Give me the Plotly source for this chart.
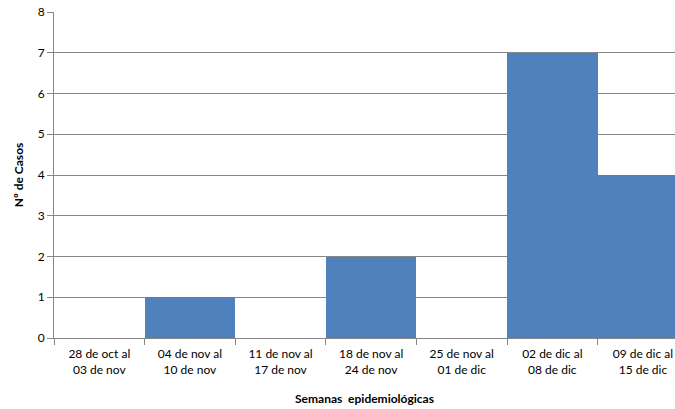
import plotly.graph_objects as go

categories = ["28 de oct al<br>03 de nov", "04 de nov al<br>10 de nov", "11 de nov al<br>17 de nov",
              "18 de nov al<br>24 de nov", "25 de nov al<br>01 de dic", "02 de dic al<br>08 de dic",
              "09 de dic al<br>15 de dic"]
casos = [0, 1, 0, 2, 0, 7, 4]
y_ticks = [0, 1, 2, 3, 4, 5, 6, 7, 8]

W, H = 675, 409
L, T, B = 54, 12, 71
cat_px = 90.6
xmax = -0.5 + (W - L) / cat_px

fig = go.Figure(go.Bar(
    x=categories, y=casos, width=1.0,
    marker=dict(color="#4F81BD", line=dict(color="#4F81BD", width=0)),
))
font_family = "Lato, Open Sans, sans-serif"
fig.update_layout(
    width=W, height=H,
    margin=dict(l=L, r=0, t=T, b=B),
    paper_bgcolor="white", plot_bgcolor="white",
    showlegend=False,
    bargap=0,
    font=dict(family=font_family, size=12, color="#000000"),
)
fig.update_xaxes(
    type="category", range=[-0.5, xmax],
    tickson="boundaries", ticks="outside", ticklen=6, tickcolor="#868686",
    showline=True, linecolor="#868686", linewidth=1,
    showgrid=False,
    tickfont=dict(size=12),
    ticklabelstandoff=5,
    title=dict(text="<b>Semanas  epidemiológicas</b>", font=dict(size=12), standoff=18),
)
fig.update_yaxes(
    range=[0, 8], tickvals=y_ticks,
    ticks="outside", ticklen=6, tickcolor="#868686",
    showline=True, linecolor="#868686", linewidth=1,
    showgrid=True, gridcolor="#868686", gridwidth=1,
    zeroline=False,
    tickfont=dict(size=12),
    title=dict(text="<b>Nº de Casos</b>", font=dict(size=12), standoff=11),
)
fig.write_html("out.html")
